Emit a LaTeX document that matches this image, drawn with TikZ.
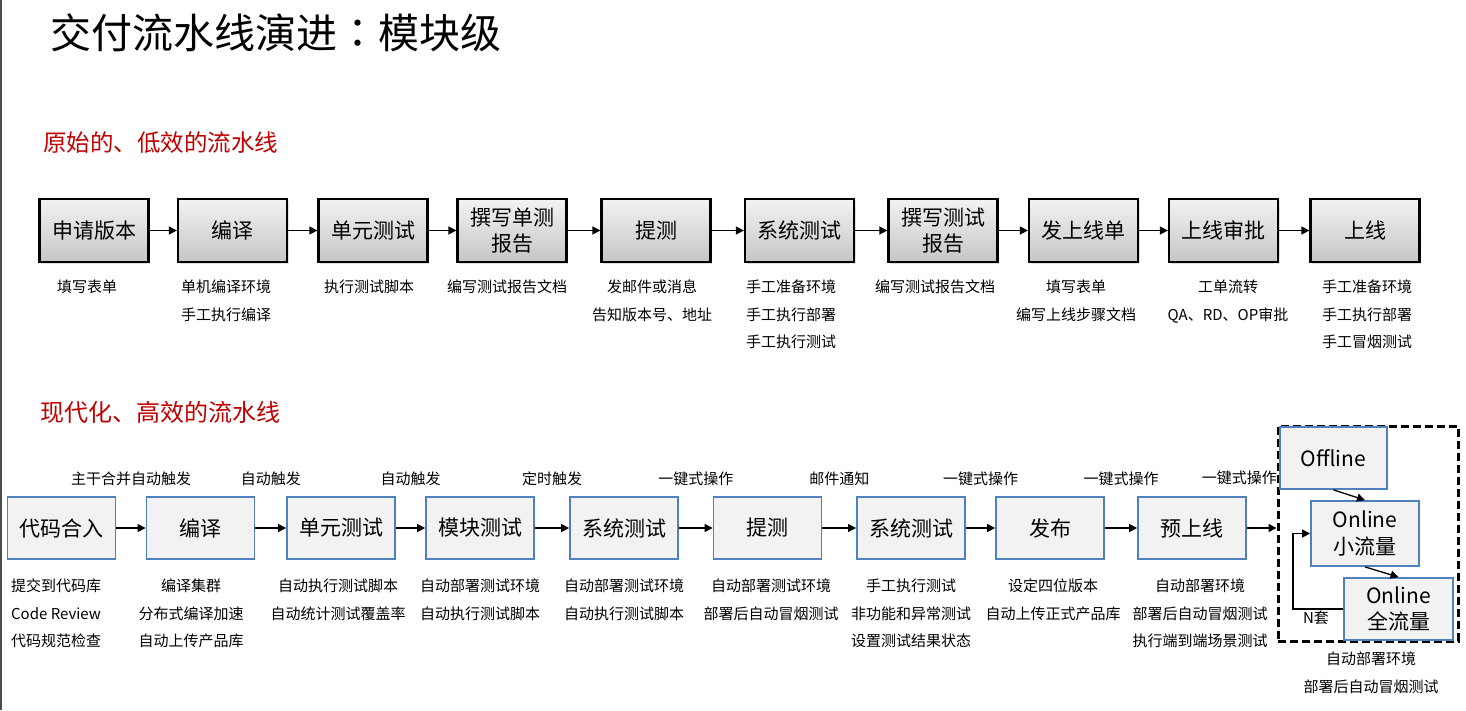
\documentclass[tikz,border=0pt]{standalone}
\usepackage{fontspec}
\setmainfont{Noto Sans CJK SC}
\newfontfamily\tcfont{Noto Sans CJK TC}
\usetikzlibrary{arrows.meta,shadows}
\definecolor{slidered}{HTML}{C00000}
\definecolor{boxblue}{HTML}{4F81BD}
\definecolor{boxfill}{HTML}{F2F2F2}
\newcommand{\boxfont}{\fontsize{21}{26.7}\selectfont}
\newcommand{\notefont}{\fontsize{15}{27.5}\selectfont}

\begin{document}
\begin{tikzpicture}[x=1pt,y=-1pt,>={Triangle[length=8pt,width=8pt]},
  oldbox/.style={draw=black,line width=2.3pt,top color=gray!10,bottom color=gray!45,
    minimum width=109pt,minimum height=63pt,align=center,inner sep=0pt,font=\boxfont,
    drop shadow={shadow xshift=1.5pt,shadow yshift=-1.5pt,opacity=0.25}},
  newbox/.style={draw=boxblue,line width=1.8pt,fill=boxfill,minimum width=108pt,
    minimum height=62pt,align=center,inner sep=0pt,font=\boxfont},
  note/.style={anchor=north,align=center,font=\notefont,inner sep=0pt},
  trig/.style={font=\notefont,inner sep=0pt},
  flow/.style={->,line width=1.5pt}]
  \useasboundingbox (0,0) rectangle (1466,710);
  \draw[gray!60!black,line width=2pt] (1,0) -- (1,710);
  % headings
  \node[anchor=west,inner sep=0pt,font=\fontsize{41}{45}\selectfont] (title) at (50,33) {交付流水线演进{\tcfont ：}模块级};
  \node[anchor=west,inner sep=0pt,text=slidered,font=\fontsize{23.5}{26}\selectfont] (sec1) at (43,143) {原始的、低效的流水线};
  \node[anchor=west,inner sep=0pt,text=slidered,font=\fontsize{24}{26}\selectfont] (sec2) at (40,412) {现代化、高效的流水线};

  % original pipeline
  \foreach \n/\x/\t in {1/94/申请版本,2/232.5/编译,3/373/单元测试,4/512/{撰写单测\\报告},
      5/656/提测,6/799.5/系统测试,7/943/{撰写测试\\报告},8/1083.5/发上线单,9/1223.5/上线审批,10/1365/上线}
    \node[oldbox] (t\n) at (\x,230.5) {\t};
  \foreach \i/\j in {1/2,2/3,3/4,4/5,5/6,6/7,7/8,8/9,9/10}
    \draw[flow] (t\i) -- (t\j);
  \foreach \n/\x/\t in {1/87/填写表单,2/226/{单机编译环境\\手工执行编译},3/369/执行测试脚本,4/507/编写测试报告文档,
      5/652/{发邮件或消息\\告知版本号、地址},6/791/{手工准备环境\\手工执行部署\\手工执行测试},7/935/编写测试报告文档,
      8/1076/{填写表单\\编写上线步骤文档},9/1228/{工单流转\\QA、RD、OP审批},10/1367/{手工准备环境\\手工执行部署\\手工冒烟测试}}
    \node[note] (tn\n) at (\x,280) {\t};

  % modern pipeline
  \foreach \n/\x/\t in {1/61.5/代码合入,2/200.5/编译,3/341/单元测试,4/480/模块测试,5/624/系统测试,
      6/767.5/提测,7/911/系统测试,8/1050/发布,9/1192/预上线}
    \node[newbox] (b\n) at (\x,528) {\t};
  \foreach \i/\j/\t in {1/2/主干合并自动触发,2/3/自动触发,3/4/自动触发,4/5/定时触发,5/6/一键式操作,
      6/7/邮件通知,7/8/一键式操作,8/9/一键式操作}
    \draw[flow] (b\i) -- (b\j) node[trig,midway,yshift=49pt] (bl\i) {\t};
  \foreach \n/\x/\t in {1/56/{提交到代码库\\Code Review\\代码规范检查},2/191/{编译集群\\分布式编译加速\\自动上传产品库},
      3/338/{自动执行测试脚本\\自动统计测试覆盖率},4/480/{自动部署测试环境\\自动执行测试脚本},5/624/{自动部署测试环境\\自动执行测试脚本},
      6/771/{自动部署测试环境\\部署后自动冒烟测试},7/911/{手工执行测试\\非功能和异常测试\\设置测试结果状态},
      8/1053/{设定四位版本\\自动上传正式产品库},9/1200/{自动部署环境\\部署后自动冒烟测试\\执行端到端场景测试}}
    \node[note] (bn\n) at (\x,579) {\t};

  % online stages in the dashed area
  \node[draw,line width=3pt,dash pattern=on 8pt off 4pt,minimum width=180pt,minimum height=215pt,inner sep=0pt] (stage) at (1368,533.5) {};
  \draw[flow] (b9) -- (b9 -| stage.west);
  \node[trig,anchor=east] (bl9) at (1277,478) {一键式操作};
  \node[newbox,minimum width=107pt] (off) at (1333.5,458) {Offline};
  \node[newbox,minimum height=65pt] (on1) at (1365,533.5) {Online\\小流量};
  \node[newbox,minimum width=109pt] (on2) at (1398.5,609) {Online\\全流量};
  \draw[->,line width=1.3pt] (off.south) -- (on1.north);
  \draw[->,line width=1.3pt] (on1.south) -- (on2.north);
  \draw[->,line width=1.3pt] (on2.west) -- ++(-50,0) coordinate (loop) |- (on1.west);
  \node[trig] (nset) at (1316,618) {N套};
  \node[note] (sn) at (1371,652) {自动部署环境\\部署后自动冒烟测试};
\end{tikzpicture}
\end{document}
